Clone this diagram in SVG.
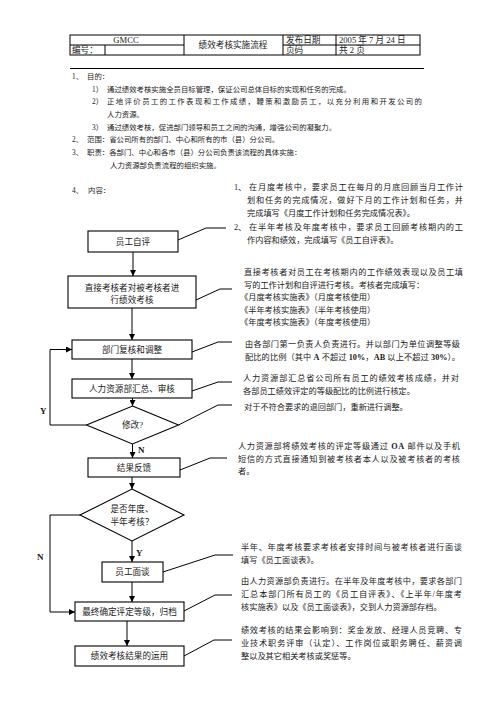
<svg xmlns="http://www.w3.org/2000/svg" width="496" height="702" viewBox="0 0 496 702">
<defs>
<marker id="ah" markerUnits="userSpaceOnUse" markerWidth="6" markerHeight="6" viewBox="0 0 6 6" refX="6" refY="3" orient="auto">
<path d="M0,0 L6,3 L0,6 Z" fill="#000"/>
</marker>
</defs>
<style>
text{font-family:"Liberation Serif","Noto Sans CJK SC",serif;fill:#1a1a1a;}
.t{font-size:7.4px;}
.r{font-size:8.2px;}
.b{font-size:8.6px;text-anchor:middle;}
.h{font-size:8.6px;}
.lbl{font-size:9px;font-weight:bold;}
.box{fill:#fff;stroke:#000;stroke-width:1.1;}
.ln{fill:none;stroke:#000;stroke-width:1;}
.arr{fill:none;stroke:#000;stroke-width:1;marker-end:url(#ah);}
</style>
<rect width="496" height="702" fill="#fff"/>
<g id="header">
<rect x="70" y="35" width="350" height="20" class="ln"/>
<line x1="70" y1="45" x2="184" y2="45" class="ln"/>
<line x1="283" y1="45" x2="420" y2="45" class="ln"/>
<line x1="105" y1="45" x2="105" y2="55" class="ln"/>
<line x1="184" y1="35" x2="184" y2="55" class="ln"/>
<line x1="283" y1="35" x2="283" y2="55" class="ln"/>
<line x1="336" y1="35" x2="336" y2="55" class="ln"/>
<text class="h" x="126" y="43" text-anchor="middle">GMCC</text>
<text class="h" x="72" y="53">编号：</text>
<text class="h" x="233" y="48" text-anchor="middle">绩效考核实施流程</text>
<text class="h" x="286" y="43">发布日期</text>
<text class="h" x="339" y="43">2005 年 7 月 24 日</text>
<text class="h" x="286" y="53">页码</text>
<text class="h" x="339" y="53">共 2 页</text>
<line x1="70" y1="68.5" x2="424" y2="68.5" stroke="#000" stroke-width="1.2"/>
</g>
<g id="intro">
<text class="t" x="72" y="79.2">1、</text><text class="t" x="87" y="79.2">目的：</text>
<text class="t" x="92" y="91.7">1）</text><text class="t" x="107" y="91.7">通过绩效考核实施全员目标管理，保证公司总体目标的实现和任务的完成。</text>
<text class="t" x="92" y="104.4">2）</text><text class="t" x="107" y="104.4" textLength="315">正地评价员工的工作表现和工作成绩，鞭策和激励员工，以充分利用和开发公司的</text>
<text class="t" x="107" y="117.1">人力资源。</text>
<text class="t" x="92" y="129.7">3）</text><text class="t" x="107" y="129.7">通过绩效考核，促进部门领导和员工之间的沟通，增强公司的凝聚力。</text>
<text class="t" x="72" y="142.4">2、</text><text class="t" x="87" y="142.4">范围：省公司所有的部门、中心和所有的市（县）分公司。</text>
<text class="t" x="72" y="155.1">3、</text><text class="t" x="87" y="155.1">职责：各部门、中心和各市（县）分公司负责该流程的具体实施：</text>
<text class="t" x="110" y="167.7">人力资源部负责流程的组织实施。</text>
<text class="t" x="72" y="192.7">4、</text><text class="t" x="88" y="192.7">内容：</text>
</g>
<g id="n1"><rect class="box" x="88" y="231" width="90" height="21"/><text class="b" x="133" y="244.5">员工自评</text></g>
<g id="n2"><rect class="box" x="68" y="276" width="128" height="32"/><text class="b" x="132" y="291">直接考核者对被考核者进</text><text class="b" x="132" y="303">行绩效考核</text></g>
<g id="n3"><rect class="box" x="72" y="340" width="120" height="19"/><text class="b" x="132" y="352.5">部门复核和调整</text></g>
<g id="n4"><rect class="box" x="72" y="379" width="120" height="19"/><text class="b" x="132" y="391.5">人力资源部汇总、审核</text></g>
<g id="n5"><polygon class="box" points="132.5,406 178.5,425 132.5,444 86.5,425"/><text class="b" x="132.5" y="428">修改?</text></g>
<g id="n6"><rect class="box" x="88" y="458" width="92" height="19"/><text class="b" x="134" y="470.5">结果反馈</text></g>
<g id="n7"><polygon class="box" points="132,489 184,515 132,541 80,515"/><text class="b" x="132" y="512">是否年度、</text><text class="b" x="132" y="525">半年考核？</text></g>
<g id="n8"><rect class="box" x="102" y="562" width="61" height="20"/><text class="b" x="132.5" y="575">员工面谈</text></g>
<g id="n9"><rect class="box" x="75" y="602" width="109" height="19"/><text class="b" x="129.5" y="614.5">最终确定评定等级，归档</text></g>
<g id="n10"><rect class="box" x="75" y="646" width="109" height="20"/><text class="b" x="129.5" y="659">绩效考核结果的运用</text></g>
<g id="connectors">
<line class="arr" x1="133" y1="252" x2="133" y2="276"/>
<line class="arr" x1="132" y1="308" x2="132" y2="340"/>
<line class="arr" x1="132" y1="359" x2="132" y2="379"/>
<line class="arr" x1="132.5" y1="398" x2="132.5" y2="406"/>
<line class="arr" x1="132.5" y1="444" x2="132.5" y2="458"/>
<line class="arr" x1="132" y1="477" x2="132" y2="489"/>
<line class="arr" x1="132" y1="541" x2="132" y2="562"/>
<line class="arr" x1="132" y1="582" x2="132" y2="602"/>
<line class="arr" x1="127" y1="621" x2="127" y2="646"/>
<polyline class="arr" points="86.5,425 50,425 50,349.5 72,349.5"/>
<polyline class="arr" points="80,515 50,515 50,612 75,612"/>
<polyline class="ln" points="178,240 206,228 226,228"/>
<polyline class="ln" points="196,300 220,289 232,289"/>
<polyline class="ln" points="192,352 218,342 232,342"/>
<polyline class="ln" points="192,391 218,382 232,382"/>
<polyline class="ln" points="178.5,425 218,405 232,405"/>
<polyline class="ln" points="180,470 210,458 227,458"/>
<polyline class="ln" points="163,572 215,555 233,555"/>
<polyline class="ln" points="184,611 215,595 232,595"/>
<polyline class="ln" points="184,656 214,640 232,640"/>
<text class="lbl" x="40" y="414">Y</text>
<text class="lbl" x="138" y="453">N</text>
<text class="lbl" x="136" y="556">Y</text>
<text class="lbl" x="37" y="560">N</text>
</g>
<g id="notes">
<text class="r" x="234" y="190">1、</text><text class="r" x="249" y="190" textLength="214">在月度考核中，要求员工在每月的月底回顾当月工作计</text>
<text class="r" x="247" y="203" textLength="216">划和任务的完成情况，做好下月的工作计划和任务，并</text>
<text class="r" x="247" y="216">完成填写《月度工作计划和任务完成情况表》。</text>
<text class="r" x="234" y="230">2、</text><text class="r" x="249" y="230" textLength="214">在半年考核及年度考核中，要求员工回顾考核期内的工</text>
<text class="r" x="247" y="243">作内容和绩效，完成填写《员工自评表》。</text>
<text class="r" x="244" y="275" textLength="219">直接考核者对员工在考核期内的工作绩效表现以及员工填</text>
<text class="r" x="244" y="287.5">写的工作计划和自评进行考核。考核者完成填写：</text>
<text class="r" x="240" y="300">《月度考核实施表》（月度考核使用）</text>
<text class="r" x="240" y="312.5">《半年考核实施表》（半年考核使用）</text>
<text class="r" x="240" y="325">《年度考核实施表》（年度考核使用）</text>
<text class="r" x="245" y="347" textLength="215">由各部门第一负责人负责进行。并以部门为单位调整等级</text>
<text class="r" x="245" y="360" textLength="215">配比的比例（其中 <tspan font-weight="bold">A</tspan> 不超过 <tspan font-weight="bold">10%</tspan>，<tspan font-weight="bold">AB</tspan> 以上不超过 <tspan font-weight="bold">30%</tspan>）。</text>
<text class="r" x="243" y="381" textLength="216">人力资源部汇总省公司所有员工的绩效考核成绩，并对</text>
<text class="r" x="243" y="394">各部员工绩效评定的等级配比的比例进行核定。</text>
<text class="r" x="244" y="410">对于不符合要求的退回部门，重新进行调整。</text>
<text class="r" x="238" y="449" textLength="222">人力资源部将绩效考核的评定等级通过 <tspan font-weight="bold">OA</tspan> 邮件以及手机</text>
<text class="r" x="238" y="461.5" textLength="222">短信的方式直接通知到被考核者本人以及被考核者的考核</text>
<text class="r" x="238" y="474">者。</text>
<text class="r" x="241" y="550" textLength="221">半年、年度考核要求考核者安排时间与被考核者进行面谈</text>
<text class="r" x="241" y="563">填写《员工面谈表》。</text>
<text class="r" x="241" y="584" textLength="221">由人力资源部负责进行。在半年及年度考核中，要求各部门</text>
<text class="r" x="241" y="597" textLength="221">汇总本部门所有员工的《员工自评表》、《上半年/年度考</text>
<text class="r" x="241" y="609.5">核实施表》以及《员工面谈表》，交到人力资源部存档。</text>
<text class="r" x="241" y="633" textLength="221">绩效考核的结果会影响到：奖金发放、经理人员竞聘、专</text>
<text class="r" x="241" y="646" textLength="221">业技术职务评审（认定）、工作岗位或职务聘任、薪资调</text>
<text class="r" x="241" y="659">整以及其它相关考核或奖惩等。</text>
</g>
</svg>
